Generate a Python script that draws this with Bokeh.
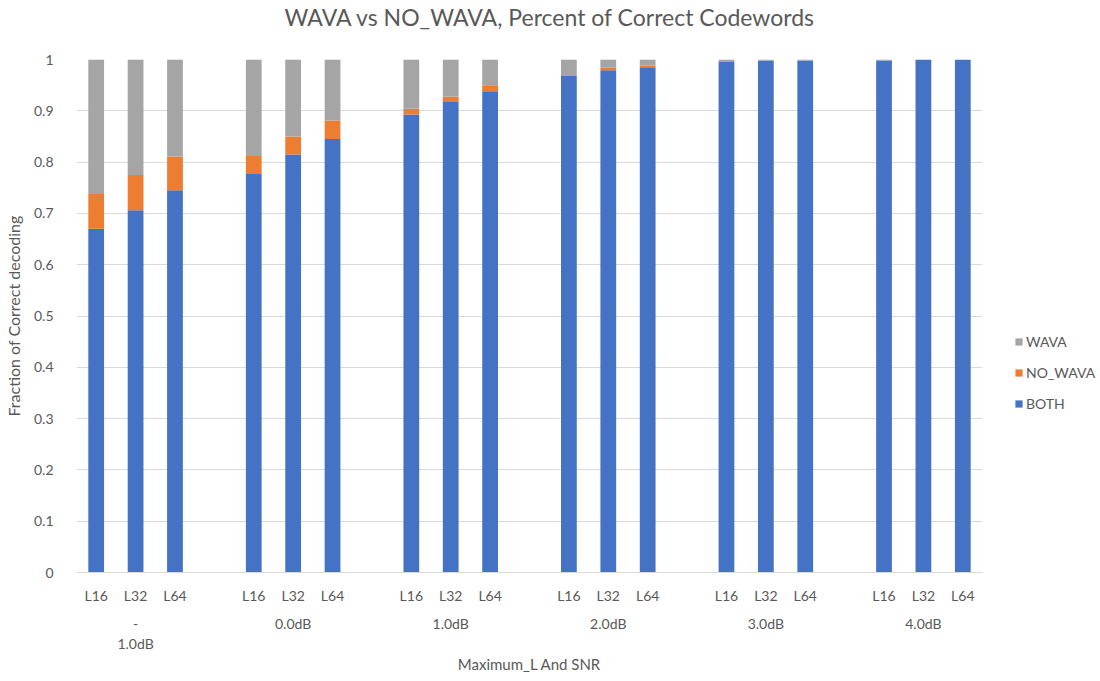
from bokeh.plotting import figure
from bokeh.models import FactorRange, ColumnDataSource, Legend, LegendItem, Title
from bokeh.embed import file_html
from bokeh.resources import INLINE

groups = ["-\n1.0dB", "0.0dB", "1.0dB", "2.0dB", "3.0dB", "4.0dB"]
lengths = ["L16", "L32", "L64"]

both = [0.670, 0.706, 0.745, 0.777, 0.815, 0.845, 0.893, 0.917, 0.938,
        0.968, 0.979, 0.985, 0.995, 0.998, 0.998, 0.998, 1.000, 1.000]
no_wava = [0.068, 0.069, 0.066, 0.035, 0.035, 0.036, 0.011, 0.011, 0.012,
           0.000, 0.005, 0.003, 0.000, 0.000, 0.000, 0.000, 0.000, 0.000]
wava = [0.262, 0.225, 0.189, 0.188, 0.150, 0.119, 0.096, 0.072, 0.050,
        0.032, 0.016, 0.012, 0.005, 0.002, 0.002, 0.002, 0.000, 0.000]

y_ticks = [0, 0.1, 0.2, 0.3, 0.4, 0.5, 0.6, 0.7, 0.8, 0.9, 1]

x = [(g, l) for g in groups for l in lengths]
src = ColumnDataSource(dict(x=x, BOTH=both, NO_WAVA=no_wava, WAVA=wava))

FONT = "Lato"
GREY = "#595959"

p = figure(x_range=FactorRange(*x, group_padding=1.0, factor_padding=0.0, range_padding=0.0),
           y_range=(0, 1), frame_width=906, frame_height=513, output_backend="svg",
           toolbar_location=None, min_border_left=0, min_border_right=0,
           min_border_top=0, min_border_bottom=0, title=None)
p.outline_line_color = None

spacer = Title(text=" ", text_font_size="24px", standoff=0)
p.add_layout(spacer, "above")
main_title = Title(text="WAVA vs NO_WAVA, Percent of Correct Codewords", align="left",
                   offset=208, standoff=0, text_font=FONT, text_font_size="23px",
                   text_font_style="normal", text_color=GREY)
p.add_layout(main_title, "above")

renderers = p.vbar_stack(["BOTH", "NO_WAVA", "WAVA"], x="x", width=0.4, source=src,
                         color=["#4472C4", "#ED7D31", "#A5A5A5"], line_color=None)

p.yaxis.ticker = y_ticks
p.yaxis.major_label_overrides = {0: "0", 1: "1"}
p.yaxis.axis_line_color = None
p.yaxis.major_tick_line_color = None
p.yaxis.minor_tick_line_color = None
p.yaxis.major_label_text_font = FONT
p.yaxis.major_label_text_font_size = "14px"
p.yaxis.major_label_text_color = GREY
p.yaxis.major_label_standoff = 17
p.yaxis.axis_label = "Fraction of Correct decoding"
p.yaxis.axis_label_text_font = FONT
p.yaxis.axis_label_text_font_size = "16px"
p.yaxis.axis_label_text_font_style = "normal"
p.yaxis.axis_label_text_color = GREY
p.yaxis.axis_label_standoff = 8

p.xaxis.axis_line_color = "#D9D9D9"
p.xaxis.major_tick_line_color = None
p.xaxis.minor_tick_line_color = None
p.xaxis.major_label_text_font = FONT
p.xaxis.major_label_text_font_size = "14px"
p.xaxis.major_label_text_color = GREY
p.xaxis.major_label_standoff = 8
p.xaxis.group_text_font = FONT
p.xaxis.group_text_font_size = "14px"
p.xaxis.group_text_color = GREY
p.xaxis.group_text_font_style = "normal"
p.xaxis.separator_line_alpha = 0
p.xaxis.axis_label = "Maximum_L And SNR"
p.xaxis.axis_label_text_font = FONT
p.xaxis.axis_label_text_font_size = "15px"
p.xaxis.axis_label_text_font_style = "normal"
p.xaxis.axis_label_text_color = GREY
p.xaxis.axis_label_standoff = 0

p.xgrid.grid_line_color = None
p.ygrid.grid_line_color = "#D9D9D9"
p.ygrid.grid_line_width = 1

legend = Legend(items=[LegendItem(label="WAVA", renderers=[renderers[2]]),
                       LegendItem(label="NO_WAVA", renderers=[renderers[1]]),
                       LegendItem(label="BOTH", renderers=[renderers[0]])],
                location=(32, 160), glyph_width=9, glyph_height=9,
                label_standoff=3, spacing=14, padding=0, margin=0,
                border_line_color=None, background_fill_alpha=0,
                label_text_font=FONT, label_text_font_size="14px",
                label_text_color=GREY)
p.add_layout(legend, "right")

open("out.html", "w").write(file_html(p, INLINE))
